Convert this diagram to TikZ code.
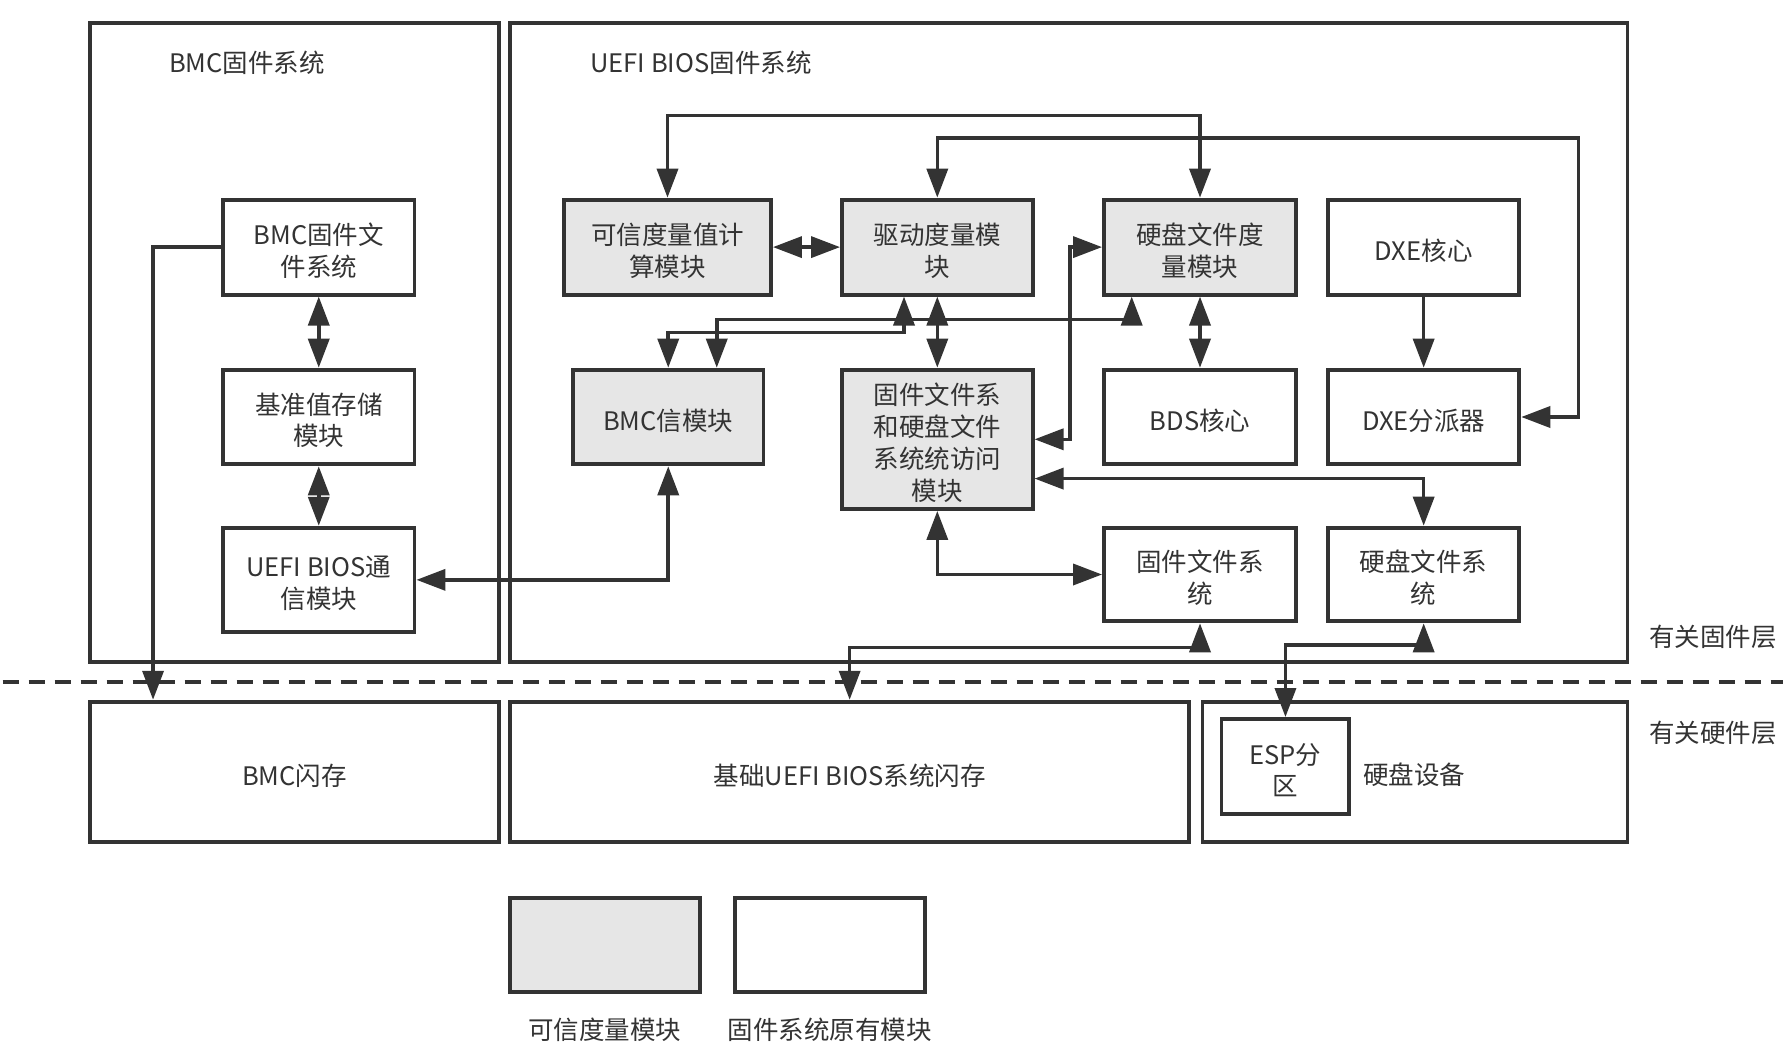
\documentclass[tikz,border=0pt]{standalone}
\usepackage{fontspec}
\setmainfont{Noto Sans CJK SC}
\usetikzlibrary{arrows.meta}
\definecolor{ln}{HTML}{333333}
\definecolor{gr}{HTML}{E6E6E6}
% #1 name, #2 centre, #3 width, #4 height, #5 extra style, #6 text
\newcommand{\modbox}[6]{%
  \node[frame, minimum width=#3, minimum height=#4, #5] (#1) at (#2) {};
  \node[txt] (#1-t) at ([yshift=-3.4pt]#1.center) {#6};}
\begin{document}
\begin{tikzpicture}[x=1pt,y=-1pt,
  txt/.style={text=ln, font=\fontsize{25.5}{31.8}\selectfont, align=center, inner sep=0pt},
  frame/.style={draw=ln, line width=3.9pt, inner sep=0pt},
  gray/.style={fill=gr},
  plain/.style={},
  arr1/.style={draw=ln, line width=3.6pt, -{Triangle[length=29pt,width=21pt]}},
  arr2/.style={draw=ln, line width=3.6pt, {Triangle[length=29pt,width=21pt]}-{Triangle[length=29pt,width=21pt]}},
  sep/.style={draw=ln, line width=3.9pt, dash pattern=on 16pt off 10pt, dash phase=-2.7pt}
]
\useasboundingbox (0,0) rectangle (1783,1057);
\fill[white] (0,0) rectangle (1783,1057);

% outer frames
\node[frame, minimum width=409pt, minimum height=638.7pt] (bmcsys) at (294.5,342.35) {};
\node[frame, minimum width=1117.5pt, minimum height=638.7pt] (uefisys) at (1068.75,342.35) {};
\node[txt] (bmct) at (247,62.5) {BMC固件系统};
\node[txt] (uefit) at (701,62.5) {UEFI BIOS固件系统};

% BMC modules
\modbox{bmcfs}{318.75,247.1}{191.5pt}{95pt}{plain}{BMC固件文\\件系统}
\modbox{base}{318.75,417}{191.5pt}{94.7pt}{plain}{基准值存储\\模块}
\modbox{comm}{318.75,579.85}{191.5pt}{104.3pt}{plain}{UEFI BIOS通\\信模块}

% UEFI modules
\modbox{trust}{667.5,247.1}{207pt}{95pt}{gray}{可信度量值计\\算模块}
\modbox{bmcm}{668.25,417}{190.5pt}{94.7pt}{gray}{BMC信模块}
\modbox{drv}{937.3,247.1}{190.6pt}{95pt}{gray}{驱动度量模\\块}
\modbox{acc}{937.3,439.3}{190.6pt}{139.4pt}{gray}{固件文件系\\和硬盘文件\\系统统访问\\模块}
\modbox{hdm}{1200,247.1}{192pt}{95pt}{gray}{硬盘文件度\\量模块}
\modbox{bds}{1200,417}{192pt}{94.7pt}{plain}{BDS核心}
\modbox{fwfs}{1200,574.5}{192pt}{93.7pt}{plain}{固件文件系\\统}
\modbox{dxe}{1423.65,247.1}{191.3pt}{95pt}{plain}{DXE核心}
\modbox{disp}{1423.65,417}{191.3pt}{94.7pt}{plain}{DXE分派器}
\modbox{hdfs}{1423.65,574.5}{191.3pt}{93.7pt}{plain}{硬盘文件系\\统}

% layer labels and separator
\node[txt] (fwl) at (1713,637) {有关固件层};
\node[txt] (hwl) at (1713,733) {有关硬件层};
\coordinate (dl) at (0,681.7);
\coordinate (dr) at (1783,681.7);
\draw[sep] (dl) -- (dr);

% hardware
\modbox{bmcflash}{294.5,772}{409pt}{140.6pt}{plain}{BMC闪存}
\modbox{baseflash}{849.65,772}{679.3pt}{140.6pt}{plain}{基础UEFI BIOS系统闪存}
\node[frame, minimum width=425pt, minimum height=140.6pt] (hdd) at (1415,772) {};
\node[txt] (hddt) at (1414,775) {硬盘设备};
\modbox{esp}{1285.45,766.65}{127.9pt}{95.3pt}{plain}{ESP分\\区}

% legend
\node[frame, fill=gr, minimum width=190pt, minimum height=94pt] (lg1) at (605,944.7) {};
\node[frame, minimum width=190.2pt, minimum height=94pt] (lg2) at (829.9,944.7) {};
\node[txt] (lg1t) at (604.5,1030) {可信度量模块};
\node[txt] (lg2t) at (829.6,1030) {固件系统原有模块};

% connectors
\draw[arr1] (bmcfs.west) -| ([xshift=65pt]bmcflash.north west);
\draw[arr2] (bmcfs.south) -- (base.north);
\draw[arr2] (base.south) -- (comm.north);
\draw[arr2] (bmcm.south) |- (comm.east);
\draw[arr2] (trust.north) -- ++(0,-82.2) -| (hdm.north);
\draw[arr2] (drv.north) -- ++(0,-59.9) -- ++(641.3,0) |- (disp.east);
\draw[arr2] (trust.east) -- (drv.west);
\draw[arr2] ([xshift=-33.3pt]drv.south) -- ++(0,36.1) -| (bmcm.north);
\draw[arr2] ([xshift=-68.3pt]hdm.south) -- ++(0,23.1) -| ([xshift=48.5pt]bmcm.north);
\draw[arr2] (drv.south) -- (acc.north);
\draw[arr2] (acc.east) -- ++(35.7,0) |- (hdm.west);
\draw[arr2] (hdm.south) -- (bds.north);
\draw[arr1] (dxe.south) -- (disp.north);
\draw[arr2] ([yshift=-39.3pt]acc.east) -| (hdfs.north);
\draw[arr2] (acc.south) |- (fwfs.west);
\draw[arr2] (fwfs.south) -- ++(0,24.3) -| (baseflash.north);
\draw[arr2] (hdfs.south) -- ++(0,21.7) -| (esp.north);
\end{tikzpicture}
\end{document}
